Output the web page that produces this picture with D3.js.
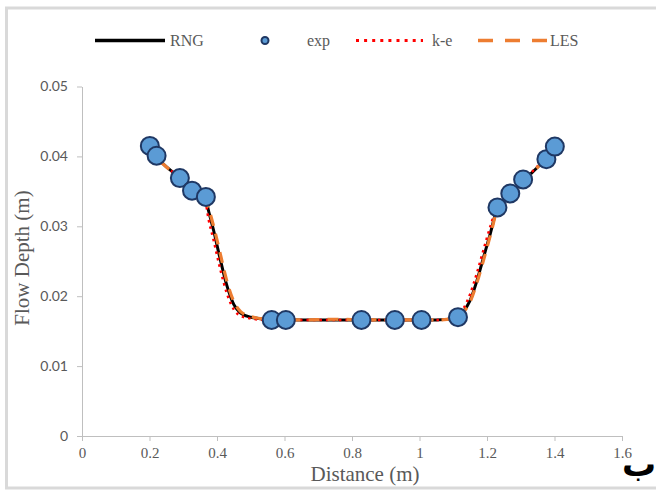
<!DOCTYPE html>
<html>
<head>
<meta charset="utf-8">
<script src="https://cdn.jsdelivr.net/npm/d3@7"></script>
<style>
  body { margin: 0; background: #fff; }
  text { fill: #595959; }
</style>
</head>
<body>
<div id="chart"></div>
<script>
// values
const lineX = [0.20, 0.22, 0.29, 0.33, 0.365, 0.375, 0.39, 0.41, 0.43, 0.45, 0.47, 0.50, 0.55, 0.65, 0.75, 0.85, 0.95, 1.05, 1.11, 1.13, 1.15, 1.17, 1.19, 1.21, 1.23, 1.27, 1.31, 1.37, 1.40]
const rngY = [0.0414, 0.0400, 0.0369, 0.0350, 0.0340, 0.0322, 0.0294, 0.0252, 0.0214, 0.0188, 0.0176, 0.0170, 0.0167, 0.0166, 0.0166, 0.0166, 0.0166, 0.0166, 0.0169, 0.0178, 0.0194, 0.0222, 0.0256, 0.0290, 0.0325, 0.0346, 0.0366, 0.0395, 0.0414]
const keY = [0.0414, 0.0400, 0.0369, 0.0350, 0.0336, 0.0310, 0.0280, 0.0238, 0.0203, 0.0181, 0.0172, 0.0168, 0.0166, 0.0166, 0.0166, 0.0166, 0.0166, 0.0166, 0.0170, 0.0182, 0.0203, 0.0233, 0.0267, 0.0300, 0.0328, 0.0347, 0.0367, 0.0396, 0.0414]
const lesY = [0.0414, 0.0400, 0.0369, 0.0350, 0.0341, 0.0326, 0.0300, 0.0260, 0.0220, 0.0192, 0.0178, 0.0171, 0.0167, 0.0166, 0.0167, 0.0166, 0.0166, 0.0166, 0.0169, 0.0177, 0.0192, 0.0219, 0.0252, 0.0287, 0.0323, 0.0346, 0.0366, 0.0395, 0.0414]

const expX = [0.201, 0.221, 0.290, 0.326, 0.367, 0.562, 0.604, 0.828, 0.927, 1.006, 1.114, 1.231, 1.269, 1.307, 1.376, 1.401]
const expY = [0.0415, 0.0401, 0.0369, 0.0351, 0.0342, 0.0166, 0.0166, 0.0166, 0.0166, 0.0166, 0.0170, 0.0327, 0.0347, 0.0367, 0.0396, 0.0414]

const xTicks = [0, 0.2, 0.4, 0.6, 0.8, 1, 1.2, 1.4, 1.6]
const xTickLabels = ["0", "0.2", "0.4", "0.6", "0.8", "1", "1.2", "1.4", "1.6"]
const yTicks = [0, 0.01, 0.02, 0.03, 0.04, 0.05]
const yTickLabels = ["0", "0.01", "0.02", "0.03", "0.04", "0.05"]

const width = 656
const height = 491
const margin = { top: 86.5, bottom: 55, left: 82, right: 34 }

const svg = d3.select("#chart").append("svg").attr("width", width).attr("height", height)

// outer frame
svg.append("rect")
    .attr("x", 6.5).attr("y", 8)
    .attr("width", 700).attr("height", 480)
    .attr("fill", "#fff").attr("stroke", "#d9d9d9").attr("stroke-width", 3)

const x = d3.scaleLinear().domain([0, 1.6]).range([margin.left, width - margin.right])
const y = d3.scaleLinear().domain([0, 0.05]).range([height - margin.bottom, margin.top])

const xAxis = d3.axisBottom(x).tickValues(xTicks).tickFormat((d, i) => xTickLabels[i]).tickSize(5).tickSizeOuter(0).tickPadding(6)
const yAxis = d3.axisLeft(y).tickValues(yTicks).tickFormat((d, i) => yTickLabels[i]).tickSize(5).tickSizeOuter(0).tickPadding(9)

const xAxisGroup = svg.append("g").attr("transform", `translate(0, ${y(0)})`).call(xAxis)
const yAxisGroup = svg.append("g").attr("transform", `translate(${x(0)}, 0)`).call(yAxis)

xAxisGroup.selectAll("path, line").attr("stroke", "#bfbfbf")
yAxisGroup.selectAll("path, line").attr("stroke", "#bfbfbf")
xAxisGroup.selectAll("text").attr("fill", "#595959").style("font-family", "'Liberation Serif', serif").style("font-size", "15px")
yAxisGroup.selectAll("text").attr("fill", "#595959").style("font-family", "Lato, sans-serif").style("font-size", "14px")

// axis titles
svg.append("text")
    .attr("x", 365).attr("y", 481)
    .attr("text-anchor", "middle")
    .style("font-family", "'Liberation Serif', serif").style("font-size", "21px")
    .text("Distance (m)")

svg.append("text")
    .attr("transform", "translate(29, 258) rotate(-90)")
    .attr("text-anchor", "middle")
    .style("font-family", "'Liberation Serif', serif").style("font-size", "21px")
    .text("Flow Depth (m)")

// panel letter
svg.append("text")
    .attr("x", 639).attr("y", 476)
    .attr("text-anchor", "middle")
    .style("font-family", "'DejaVu Sans', sans-serif").style("font-size", "34px").style("font-weight", "bold")
    .style("fill", "#000")
    .text("ب")

// lines
const line = d3.line().x(d => x(d[0])).y(d => y(d[1])).curve(d3.curveMonotoneX)

const series = [
    { name: "RNG", ys: rngY, color: "#000000", width: 3, dash: null },
    { name: "k-e", ys: keY, color: "#ff0000", width: 2.5, dash: "2.5 4" },
    { name: "LES", ys: lesY, color: "#ed7d31", width: 3.2, dash: "11 8" }
]

const lineGroup = svg.append("g")
lineGroup.selectAll("path").data(series).enter()
    .append("path")
    .attr("d", s => line(lineX.map((v, i) => [v, s.ys[i]])))
    .attr("fill", "none")
    .attr("stroke", s => s.color)
    .attr("stroke-width", s => s.width)
    .attr("stroke-dasharray", s => s.dash)

// experimental points
const points = expX.map((v, i) => ({ x: v, y: expY[i] }))
svg.append("g").selectAll("circle").data(points).enter()
    .append("circle")
    .attr("cx", d => x(d.x))
    .attr("cy", d => y(d.y))
    .attr("r", 9)
    .attr("fill", "#5b9bd5")
    .attr("stroke", "#1f3864")
    .attr("stroke-width", 2)

// legend
const legend = svg.append("g").style("font-family", "'Liberation Serif', serif").style("font-size", "16px")
const ly = 40.5

legend.append("line").attr("x1", 95).attr("x2", 165).attr("y1", ly).attr("y2", ly)
    .attr("stroke", "#000").attr("stroke-width", 3.5)
legend.append("text").attr("x", 170).attr("y", ly + 5.5).text("RNG")

legend.append("circle").attr("cx", 265).attr("cy", ly).attr("r", 3.5)
    .attr("fill", "#5b9bd5").attr("stroke", "#1f3864").attr("stroke-width", 2)
legend.append("text").attr("x", 307).attr("y", ly + 5.5).text("exp")

legend.append("line").attr("x1", 356).attr("x2", 423).attr("y1", ly).attr("y2", ly)
    .attr("stroke", "#ff0000").attr("stroke-width", 3).attr("stroke-dasharray", "3 5.1")
legend.append("text").attr("x", 432).attr("y", ly + 5.5).text("k-e")

legend.append("line").attr("x1", 478).attr("x2", 548).attr("y1", ly).attr("y2", ly)
    .attr("stroke", "#ed7d31").attr("stroke-width", 3.5).attr("stroke-dasharray", "15 12")
legend.append("text").attr("x", 550).attr("y", ly + 5.5).text("LES")
</script>
</body>
</html>
